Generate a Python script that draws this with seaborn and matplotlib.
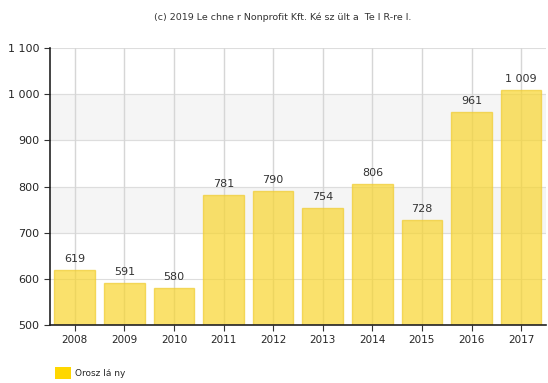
import matplotlib
matplotlib.use("Agg")
import matplotlib.pyplot as plt
import seaborn as sns
import pandas as pd
from matplotlib.patches import Patch

years = ["2008", "2009", "2010", "2011", "2012", "2013", "2014", "2015", "2016", "2017"]
values = [619, 591, 580, 781, 790, 754, 806, 728, 961, 1009]
yticks = [500, 600, 700, 800, 900, 1000, 1100]
series_name = "Orosz lá ny"
title = "(c) 2019 Le chne r Nonprofit Kft. Ké sz ült a  Te I R-re l."

def fmt(v):
    s = f"{v:,}".replace(",", " ")
    return s

sns.set_style("white")
plt.rcParams['font.family'] = ['DejaVu Sans']

fig = plt.figure(figsize=(5.48, 3.83), dpi=100)
ax = fig.add_axes([0.0912, 0.1514, 0.905, 0.7233])

df = pd.DataFrame({"year": years, "value": values})

# background bands
ax.axhspan(900, 1000, color="#f2f2f2", zorder=0)
ax.axhspan(700, 800, color="#f2f2f2", zorder=0)
for t in yticks:
    ax.axhline(t, color="#dddddd", lw=0.8, zorder=0.5)

sns.barplot(data=df, x="year", y="value", color="#F8D52E", saturation=1,
            width=0.82, edgecolor="#F0CC30", linewidth=1.0, ax=ax, zorder=2)
for p in ax.patches:
    p.set_alpha(0.7)

for i in range(len(years)):
    ax.axvline(i, color="#d6d6d6", lw=1.0, zorder=1)

for i, v in enumerate(values):
    ax.text(i, v + 13, fmt(v), ha="center", va="bottom", fontsize=8, color="#333333", zorder=3)

ax.set_ylim(500, 1100)
ax.set_xlim(-0.5, len(years) - 0.5)
ax.set_yticks(yticks)
ax.set_yticklabels([fmt(t) for t in yticks], fontsize=8)
ax.tick_params(axis="x", labelsize=7.5, length=4, direction="out", bottom=True, color="#333333")
ax.tick_params(axis="y", length=4, direction="out", left=True, color="#333333")
ax.set_xlabel("")
ax.set_ylabel("")
for s in ["top", "right"]:
    ax.spines[s].set_visible(False)
for s in ["left", "bottom"]:
    ax.spines[s].set_color("#222222")
    ax.spines[s].set_linewidth(1.2)

fig.text(0.515, 0.955, title, ha="center", va="center", fontsize=6.8, color="#333333")

handle = Patch(facecolor="#FFD700", edgecolor="none")
fig.legend([handle], [series_name], loc="lower left", bbox_to_anchor=(0.085, -0.01),
           frameon=False, fontsize=6.5, handlelength=1.8, handleheight=1.7, handletextpad=0.5)

fig.savefig("out.png", dpi=100)
